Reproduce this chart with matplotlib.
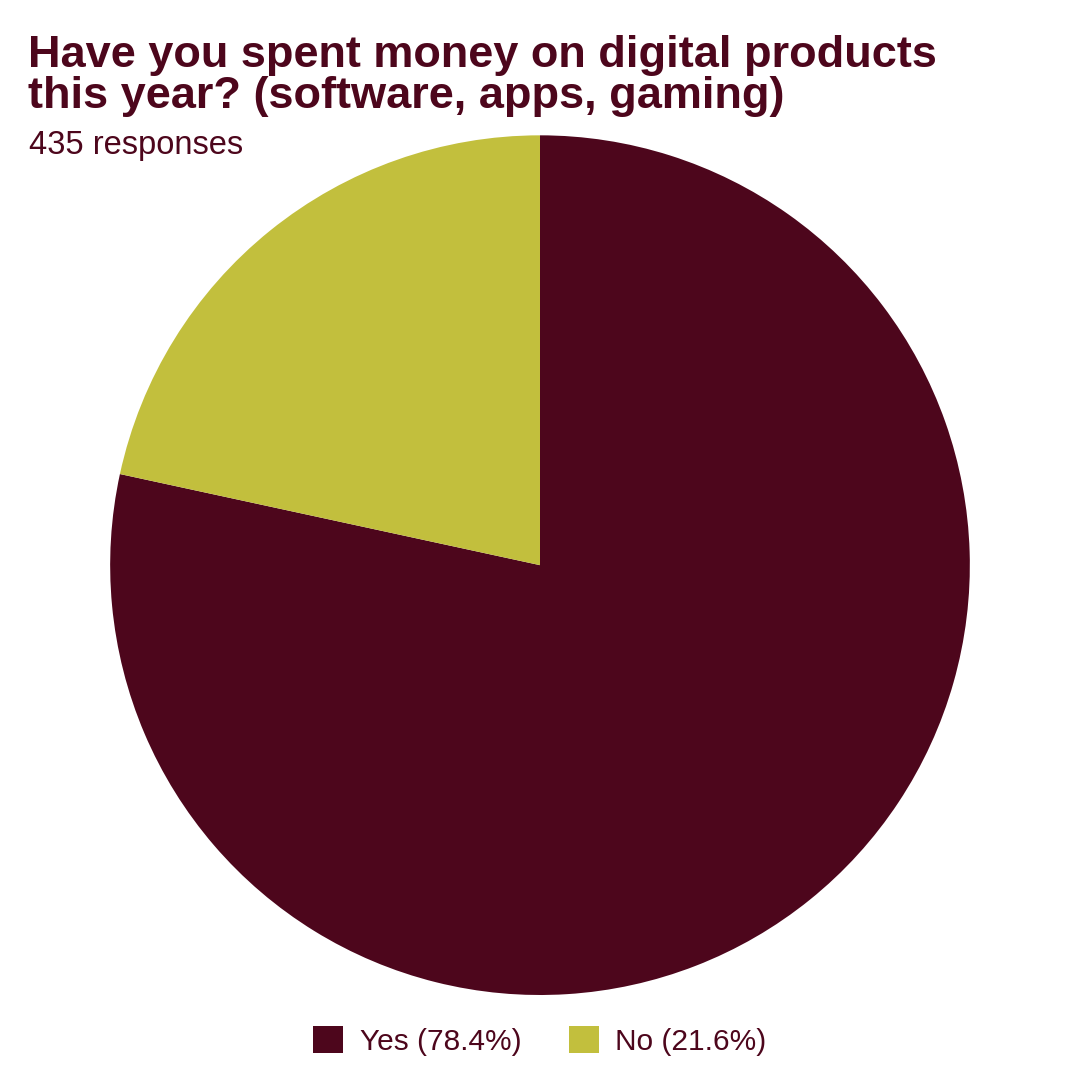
import matplotlib.pyplot as plt
from matplotlib.patches import Patch

# Survey data
labels = ['Yes', 'No']
percents = [78.4, 21.6]
colors = ['#4d061c', '#c2bf3d']
title = "Have you spent money on digital products\nthis year? (software, apps, gaming)"
subtitle = "435 responses"

text_color = '#4d061c'
plt.rcParams['font.family'] = ['Liberation Sans', 'DejaVu Sans']

fig = plt.figure(figsize=(10.8, 10.8), dpi=100)
ax = fig.add_axes([0.102, 0.0787, 0.796, 0.796])
ax.pie(percents, colors=colors, startangle=90, counterclock=False,
       wedgeprops=dict(linewidth=0))
ax.set_xlim(-1, 1)
ax.set_ylim(-1, 1)
ax.set_aspect('equal')

fig.text(0.026, 0.968, title, fontsize=32.5, fontweight='heavy', color=text_color,
         va='top', ha='left', linespacing=1.0)
fig.text(0.027, 0.857, subtitle, fontsize=23.5, color=text_color, va='baseline', ha='left')

handles = [Patch(facecolor=c, edgecolor='none') for c in colors]
leg_labels = [f"{l} ({p}%)" for l, p in zip(labels, percents)]
fig.legend(handles, leg_labels, loc='center', bbox_to_anchor=(0.5, 0.036), ncol=2,
           frameon=False, fontsize=21.5, labelcolor=text_color,
           handlelength=1.0, handleheight=1.0, handletextpad=0.55, columnspacing=1.6)

fig.savefig('out.png', dpi=100, facecolor='white')
